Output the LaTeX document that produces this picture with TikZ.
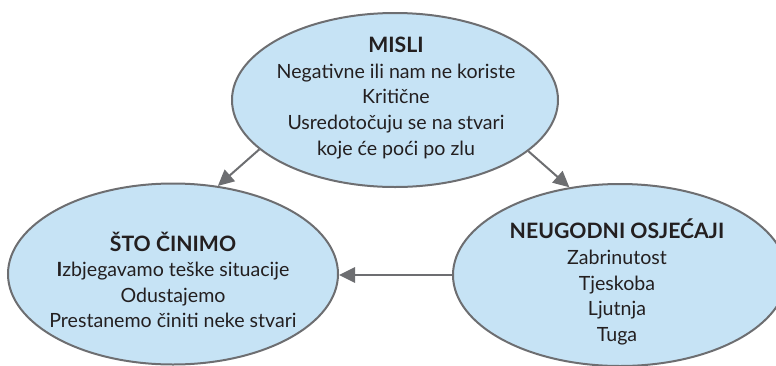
\documentclass[tikz,border=0pt]{standalone}
\usepackage{fontspec}
\setmainfont{Lato}
\usetikzlibrary{shapes.geometric,arrows.meta}
\definecolor{bubblefill}{RGB}{198,227,245}
\definecolor{edgegray}{RGB}{109,110,113}
\definecolor{textdark}{RGB}{35,31,32}
\tikzset{
  bubble/.style={ellipse, draw=edgegray, fill=bubblefill, line width=1.5pt, inner sep=0pt},
  txt/.style={align=center, text=textdark, font=\fontsize{14.7}{19.2}\selectfont, inner sep=0pt},
  arr/.style={draw=edgegray, line width=1.5pt, -{Triangle[length=12pt,width=11.5pt]}}
}
\newcommand{\ttlfont}{\fontsize{15.9}{19.2}\selectfont\bfseries}
\begin{document}
\begin{tikzpicture}[x=0.75pt,y=-0.75pt]
\useasboundingbox (0,0) rectangle (776,365);
\node[bubble, minimum width=244.5pt, minimum height=130.5pt] (top) at (395,100) {};
\node[bubble, minimum width=247.5pt, minimum height=135.75pt] (left) at (173,274) {};
\node[bubble, minimum width=250.5pt, minimum height=136.5pt] (right) at (620,275) {};
\node[txt] (toptext) at (396,98) {{\ttlfont MISLI}\\Negativne ili nam ne koriste\\Kritične\\Usredotočuju se na stvari\\koje će poći po zlu};
\node[txt] (lefttext) at (173,280) {{\ttlfont ŠTO ČINIMO}\\\textbf{I}zbjegavamo teške situacije\\Odustajemo\\Prestanemo činiti neke stvari};
\node[txt] (righttext) at (617,282) {{\ttlfont NEUGODNI OSJEĆAJI}\\Zabrinutost\\Tjeskoba\\Ljutnja\\Tuga};
\draw[arr] (top.200) -- (left.63);
\draw[arr] (top.339) -- (right.120);
\draw[arr] (right.west) -- (right.west -| left.east);
\end{tikzpicture}
\end{document}
